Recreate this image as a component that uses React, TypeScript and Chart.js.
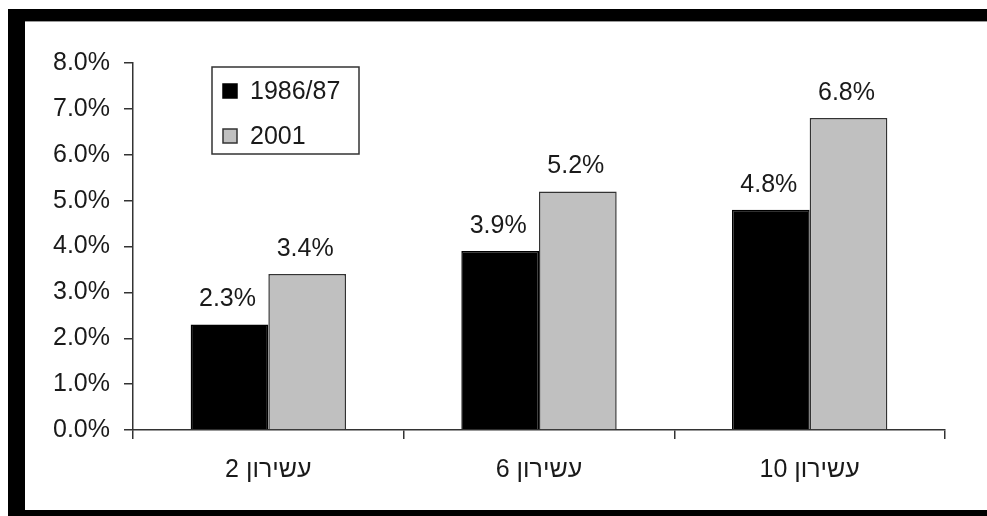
import React, { useEffect, useRef } from "react";
import { Chart, registerables } from "chart.js";

Chart.register(...registerables);

const categories = ["עשירון 2", "עשירון 6", "עשירון 10"];
const series1Label = "1986/87";
const series1Values = [2.3, 3.9, 4.8];
const series2Label = "2001";
const series2Values = [3.4, 5.2, 6.8];
const yTicks = [0, 1, 2, 3, 4, 5, 6, 7, 8];

const FONT = "'Liberation Sans', Arial, 'DejaVu Sans', sans-serif";
const TEXT = "#1a1a1a";
const LINE = "#333333";

const dataLabelPlugin = {
  id: "dataLabels",
  afterDatasetsDraw(chart: any) {
    const ctx = chart.ctx;
    ctx.save();
    ctx.font = `25px ${FONT}`;
    ctx.fillStyle = TEXT;
    ctx.textAlign = "center";
    ctx.textBaseline = "alphabetic";
    chart.data.datasets.forEach((ds: any, di: number) => {
      const meta = chart.getDatasetMeta(di);
      meta.data.forEach((el: any, i: number) => {
        const v = ds.data[i] as number;
        ctx.fillText(v.toFixed(1) + "%", el.x - 2, el.y - 18);
      });
    });
    ctx.restore();
  },
};

const legendPlugin = {
  id: "boxLegend",
  afterDraw(chart: any) {
    const ctx = chart.ctx;
    const bx = 187;
    const by = 46;
    const bw = 147;
    const bh = 87;
    ctx.save();
    ctx.strokeStyle = LINE;
    ctx.lineWidth = 1.5;
    ctx.strokeRect(bx, by, bw, bh);
    ctx.font = `25px ${FONT}`;
    ctx.textBaseline = "middle";
    ctx.textAlign = "left";
    chart.data.datasets.forEach((ds: any, i: number) => {
      const cy = 70 + i * 45;
      ctx.fillStyle = ds.backgroundColor;
      ctx.fillRect(198, cy - 7, 14, 14);
      ctx.strokeStyle = i === 0 ? "#000" : LINE;
      ctx.lineWidth = 1.5;
      ctx.strokeRect(198, cy - 7, 14, 14);
      ctx.fillStyle = TEXT;
      ctx.fillText(ds.label, 225, cy + 1);
    });
    ctx.restore();
  },
};

export default function App() {
  const canvasRef = useRef<HTMLCanvasElement | null>(null);

  useEffect(() => {
    document.body.style.overflow = "hidden";
    const canvas = canvasRef.current;
    if (!canvas) return;
    const chart = new Chart(canvas, {
      type: "bar",
      data: {
        labels: categories,
        datasets: [
          {
            label: series1Label,
            data: series1Values,
            backgroundColor: "#000000",
            borderColor: "#000000",
            borderWidth: 1.5,
          },
          {
            label: series2Label,
            data: series2Values,
            backgroundColor: "#c0c0c0",
            borderColor: LINE,
            borderWidth: 1.5,
          },
        ],
      },
      options: {
        animation: false,
        responsive: true,
        maintainAspectRatio: false,
        layout: { padding: { left: 0, right: 42, top: 42, bottom: 0 } },
        datasets: {
          bar: { categoryPercentage: 0.574, barPercentage: 1 },
        },
        plugins: {
          legend: { display: false },
          tooltip: { enabled: false },
        },
        scales: {
          x: {
            offset: true,
            grid: {
              offset: true,
              drawOnChartArea: false,
              drawTicks: true,
              tickLength: 9,
              color: LINE,
              lineWidth: 1.5,
            },
            border: { display: true, color: LINE, width: 1.5 },
            ticks: {
              color: TEXT,
              font: { family: FONT, size: 25 },
              padding: 16,
            },
            afterFit(scale: any) {
              scale.height = 80;
            },
          },
          y: {
            min: 0,
            max: 8,
            afterBuildTicks(scale: any) {
              scale.ticks = yTicks.map((v) => ({ value: v }));
            },
            grid: {
              drawOnChartArea: false,
              drawTicks: true,
              tickLength: 9,
              color: LINE,
              lineWidth: 1.5,
            },
            border: { display: true, color: LINE, width: 1.5 },
            ticks: {
              color: TEXT,
              font: { family: FONT, size: 25 },
              padding: 14,
              callback: (v: any) => Number(v).toFixed(1) + "%",
            },
            afterFit(scale: any) {
              scale.width = 108;
            },
          },
        },
      },
      plugins: [dataLabelPlugin, legendPlugin],
    });
    return () => chart.destroy();
  }, []);

  return (
    <div
      style={{
        position: "absolute",
        left: 8,
        top: 9,
        width: 962,
        height: 489,
        borderLeft: "17px solid #000",
        borderTop: "12px solid #000",
        borderBottom: "6px solid #000",
        background: "#fff",
      }}
    >
      <div style={{ position: "absolute", left: 0, top: 0, width: 962, height: 1, background: "#999" }} />
      <div style={{ position: "absolute", left: 0, top: 0, width: 962, height: 489 }}>
        <canvas ref={canvasRef} />
      </div>
    </div>
  );
}
